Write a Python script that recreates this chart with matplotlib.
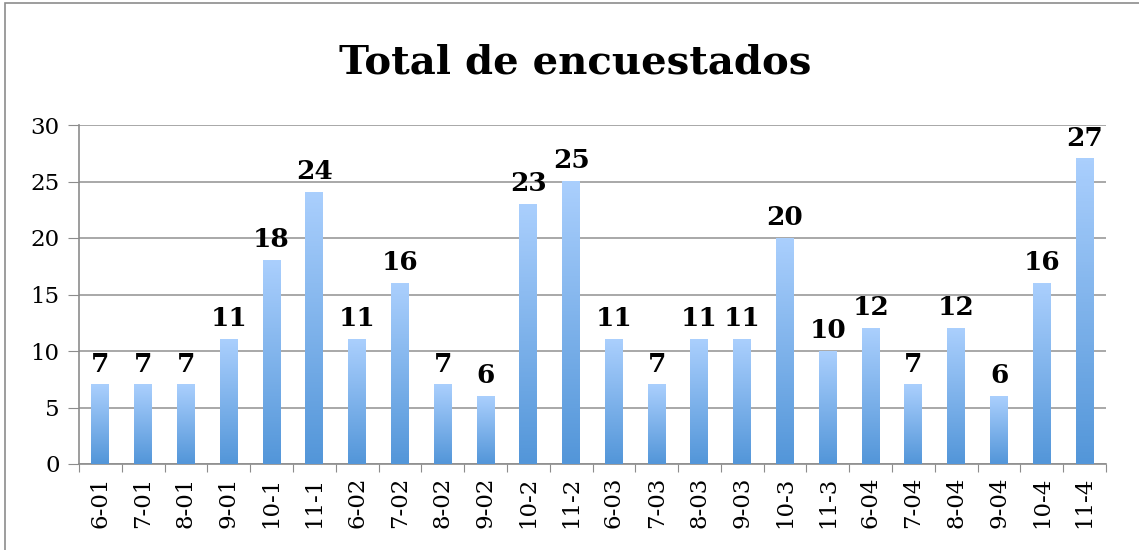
import numpy as np
import matplotlib.pyplot as plt
from matplotlib.colors import LinearSegmentedColormap
from matplotlib.patches import Rectangle

categories = ['6-01', '7-01', '8-01', '9-01', '10-1', '11-1',
              '6-02', '7-02', '8-02', '9-02', '10-2', '11-2',
              '6-03', '7-03', '8-03', '9-03', '10-3', '11-3',
              '6-04', '7-04', '8-04', '9-04', '10-4', '11-4']
values = [7, 7, 7, 11, 18, 24, 11, 16, 7, 6, 23, 25,
          11, 7, 11, 11, 20, 10, 12, 7, 12, 6, 16, 27]
yticks = [0, 5, 10, 15, 20, 25, 30]

plt.rcParams['font.family'] = ['DejaVu Serif']

fig = plt.figure(figsize=(11.39, 5.5), dpi=100)
ax = fig.add_axes([79 / 1139, 1 - 464 / 550, (1106 - 79) / 1139, (464 - 125) / 550])

# outer chart border
fig.patches.append(Rectangle((5 / 1139, -0.1), 1.2, 1.1 - 3 / 550,
                             transform=fig.transFigure, fill=False,
                             edgecolor='#8c8c8c', lw=1.2))

cmap = LinearSegmentedColormap.from_list('bl', ['#5396d9', '#aacffd'])
grad = np.linspace(0, 1, 100).reshape(-1, 1)
w = 0.42
x = np.arange(len(values))
bars = ax.bar(x, values, width=w, color='none', zorder=3)
for b, v in zip(bars, values):
    x0 = b.get_x()
    ax.imshow(grad, extent=[x0, x0 + w, 0, v], origin='lower', aspect='auto',
              cmap=cmap, zorder=3)
    ax.annotate(str(v), (b.get_x() + w / 2, v), xytext=(0, 6), textcoords='offset points',
                ha='center', va='bottom', fontsize=19, fontweight='bold', zorder=4)

ax.set_xlim(-0.5, len(values) - 0.5)
ax.set_ylim(0, 30)
ax.set_yticks(yticks)
ax.set_xticks(np.arange(len(values) + 1) - 0.5, minor=False)
ax.set_xticklabels([])
ax.set_xticks(x, minor=True)
ax.set_xticklabels(categories, minor=True, rotation=90, fontsize=16.5)
ax.tick_params(axis='x', which='minor', length=0, pad=9)
ax.tick_params(axis='x', which='major', length=6, color='#8c8c8c')
ax.tick_params(axis='y', length=8, color='#8c8c8c', labelsize=16.5, pad=6)
ax.grid(axis='y', color='#9a9a9a', lw=1.2, zorder=0)
for s in ['top', 'right']:
    ax.spines[s].set_visible(False)
for s in ['left', 'bottom']:
    ax.spines[s].set_color('#8c8c8c')
    ax.spines[s].set_linewidth(1.2)

fig.text(0.505, 1 - 62 / 550, 'Total de encuestados', ha='center', va='center',
         fontsize=29, fontweight='bold')

fig.savefig('out.png', dpi=100)
